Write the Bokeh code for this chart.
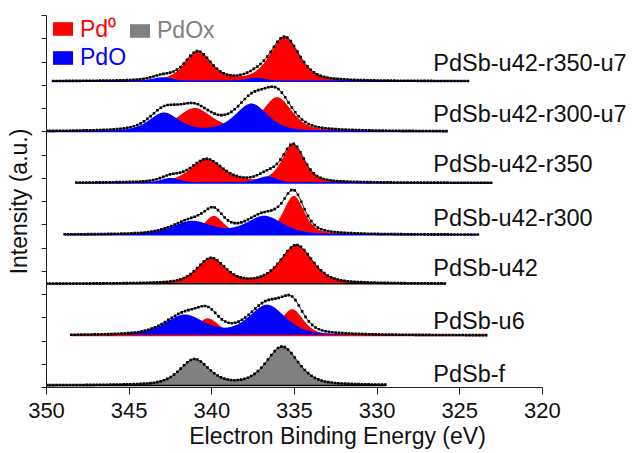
import numpy as np
from bokeh.plotting import figure
from bokeh.models import Range1d, FixedTicker, Legend, LegendItem, ColumnDataSource
from bokeh.embed import file_html
from bokeh.resources import INLINE
from bokeh.core.properties import value

# ---------------- data ----------------
samples = ["PdSb-u42-r350-u7", "PdSb-u42-r300-u7", "PdSb-u42-r350",
           "PdSb-u42-r300", "PdSb-u42", "PdSb-u6", "PdSb-f"]
# vertical offset of each spectrum (a.u.)
offsets = [13.17, 11.01, 8.80, 6.57, 4.46, 2.24, 0.09]
# measured energy window of each spectrum (eV)
e_start = [349.6, 350.0, 348.2, 348.9, 350.0, 348.5, 350.0]
e_end = [324.5, 325.8, 323.1, 323.9, 325.9, 323.4, 329.5]

# fitted Pd 3d doublets (3d3/2, 3d5/2): centre (eV), height (a.u.), FWHM (eV)
pd0_center = [[340.85, 335.60], [341.05, 336.04], [340.32, 335.08], [339.88, 335.04],
              [340.04, 334.88], [340.24, 335.14], []]
pd0_height = [[1.25, 1.89], [0.98, 1.45], [1.00, 1.63], [0.79, 1.66],
              [1.08, 1.65], [0.72, 1.12], []]
pd0_fwhm = [[1.9, 2.1], [2.5, 2.1], [2.3, 1.6], [1.4, 1.5],
            [2.0, 2.3], [1.6, 1.6], []]

pdo_center = [[343.00, 337.35], [342.90, 337.60], [342.50, 336.65], [341.20, 336.81],
              [], [341.65, 336.65], []]
pdo_height = [[0.17, 0.15], [0.79, 1.19], [0.21, 0.28], [0.57, 0.79],
              [], [0.86, 1.29], []]
pdo_fwhm = [[1.5, 1.5], [2.1, 2.3], [1.4, 1.4], [2.8, 2.6],
            [], [2.8, 2.6], []]

pdox_center = [[], [], [], [], [], [], [341.05, 335.74]]
pdox_height = [[], [], [], [], [], [], [1.10, 1.65]]
pdox_fwhm = [[], [], [], [], [], [], [2.1, 2.3]]

x_ticks = [350, 345, 340, 335, 330, 325, 320]
y_ticks = list(range(0, 17))

# ---------------- styling / layout ----------------
FONT_NAME = "Liberation Sans"
FONT = value(FONT_NAME)
TEXT = "#111111"
RED, BLUE, GRAY = "#ff0000", "#0000ff", "#808080"
baseline_colors = [BLUE, BLUE, BLUE, BLUE, "black", RED, "black"]
label_lift = [0.77, 0.77, 0.83, 0.70, 0.66, 0.64, 0.51]
label_x = 326.6
GL_MIX = 0.5  # Gaussian-Lorentzian mixing of the fit line shape


def line_shape(e, centers, heights, widths):
    total = np.zeros_like(e)
    for c, h, w in zip(centers, heights, widths):
        r = (e - c) / w
        total += h * ((1 - GL_MIX) * np.exp(-4 * np.log(2) * r ** 2) + GL_MIX / (1 + 4 * r ** 2))
    return total


p = figure(width=630, height=452, x_range=Range1d(350, 314.79), y_range=Range1d(0, 16),
           output_backend="svg", toolbar_location=None,
           min_border_left=46, min_border_right=2, min_border_top=15, min_border_bottom=65)
p.xgrid.visible = False
p.ygrid.visible = False
p.outline_line_color = None
p.background_fill_color = "white"
p.border_fill_color = "white"

red_r = blue_r = gray_r = None
for i in range(len(samples)):
    base = offsets[i]
    e = np.linspace(e_end[i], e_start[i], 600)
    red = line_shape(e, pd0_center[i], pd0_height[i], pd0_fwhm[i])
    blue = line_shape(e, pdo_center[i], pdo_height[i], pdo_fwhm[i])
    gray = line_shape(e, pdox_center[i], pdox_height[i], pdox_fwhm[i])
    env = red + blue + gray
    src = ColumnDataSource(dict(e=e, b=np.full_like(e, base), red=base + red,
                                blue=base + blue, gray=base + gray, env=base + env))
    if pdox_center[i]:
        gray_r = p.varea(x="e", y1="b", y2="gray", source=src, fill_color=GRAY)
    if pd0_center[i]:
        red_r = p.varea(x="e", y1="b", y2="red", source=src, fill_color=RED)
    if pdo_center[i]:
        blue_r = p.varea(x="e", y1="b", y2="blue", source=src, fill_color=BLUE)
    p.line(x="e", y="b", source=src, line_color=baseline_colors[i], line_width=1.5)
    # measured points (drawn on the fitted envelope)
    ed = np.linspace(e_end[i], e_start[i], int((e_start[i] - e_end[i]) / 0.2))
    envd = base + line_shape(ed, pd0_center[i], pd0_height[i], pd0_fwhm[i]) \
        + line_shape(ed, pdo_center[i], pdo_height[i], pdo_fwhm[i]) \
        + line_shape(ed, pdox_center[i], pdox_height[i], pdox_fwhm[i])
    p.scatter(x=ed, y=envd, marker="square", size=2.6, fill_color="black",
              line_color=None)
    p.line(x="e", y="env", source=src, line_color="black", line_width=1)

lab_src = ColumnDataSource(dict(x=[label_x] * len(samples),
                                y=[o + d for o, d in zip(offsets, label_lift)],
                                t=samples))
p.text(x="x", y="y", text="t", source=lab_src, text_font=FONT,
       text_font_size=value("23.5px"), text_color=TEXT,
       text_align="left", text_baseline="middle")

# axes
xa = p.xaxis[0]
xa.ticker = FixedTicker(ticks=x_ticks)
xa.bounds = (320, 350)
xa.major_tick_out = 7
xa.major_tick_in = 0
xa.minor_tick_line_color = None
xa.major_label_text_font = FONT_NAME
xa.major_label_text_font_size = "22px"
xa.major_label_text_color = TEXT
xa.major_label_standoff = 8
xa.axis_label = "Electron Binding Energy (eV)"
xa.axis_label_text_font = FONT_NAME
xa.axis_label_text_font_size = "23px"
xa.axis_label_text_font_style = "normal"
xa.axis_label_text_color = TEXT
xa.axis_label_standoff = 2
xa.axis_line_color = "#222222"
xa.major_tick_line_color = "#222222"

ya = p.yaxis[0]
ya.ticker = FixedTicker(ticks=y_ticks)
ya.major_tick_out = 5
ya.major_tick_in = 0
ya.minor_tick_line_color = None
ya.major_label_overrides = {t: "" for t in y_ticks}
ya.major_label_standoff = 0
ya.axis_label = "Intensity (a.u.)"
ya.axis_label_text_font = FONT_NAME
ya.axis_label_text_font_size = "23px"
ya.axis_label_text_font_style = "normal"
ya.axis_label_text_color = TEXT
ya.axis_label_standoff = 10
ya.axis_line_color = "#222222"
ya.major_tick_line_color = "#222222"


def make_legend(label, rend, color, loc):
    leg = Legend(items=[LegendItem(label=label, renderers=[rend])], location=loc,
                 padding=0, margin=0, spacing=0, glyph_width=25, glyph_height=17,
                 label_standoff=5, label_text_font=FONT_NAME,
                 label_text_font_size="23px", label_text_color=color,
                 border_line_color=None, background_fill_alpha=0)
    p.add_layout(leg)


make_legend("Pd\u2070", red_r, RED, (4, 343))
make_legend("PdOx", gray_r, GRAY, (81, 343))
make_legend("PdO", blue_r, BLUE, (4, 316))

open("out.html", "w").write(file_html(p, INLINE))
